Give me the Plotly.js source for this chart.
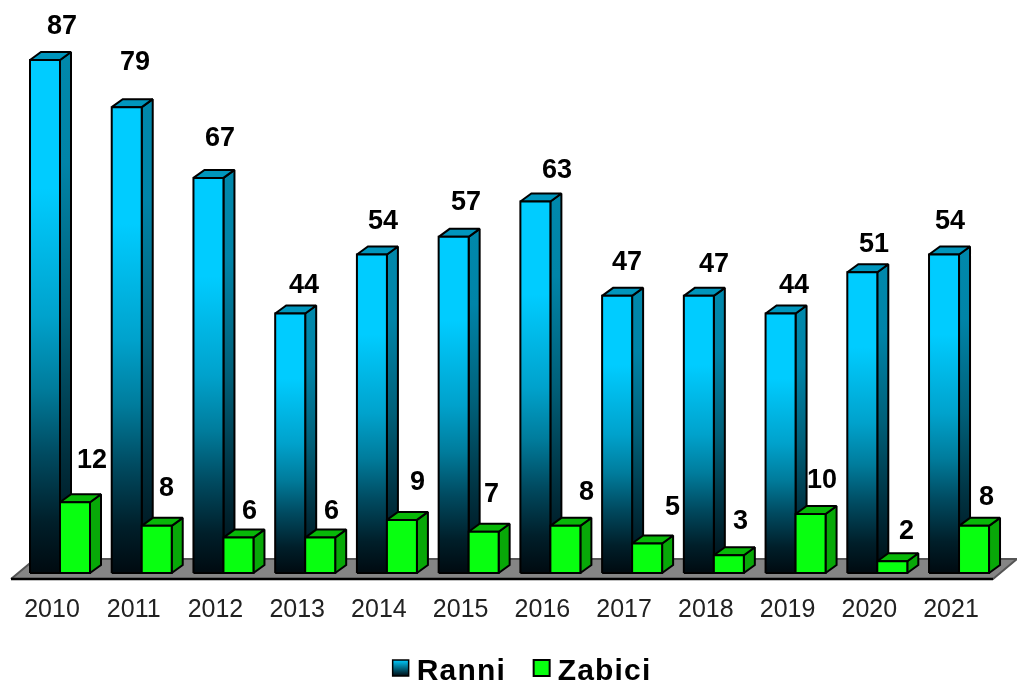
<!DOCTYPE html>
<html><head><meta charset="utf-8">
<script src="https://cdn.plot.ly/plotly-3.0.1.min.js"></script>
<style>html,body{margin:0;padding:0;background:#fff}#c{width:1017px;height:684px;filter:blur(0.4px)}
.legendtext{letter-spacing:1.2px}
.legend .legendpoints{translate:4px 0}</style>
</head><body><div id="c"></div>
<script>
const years = ['2010','2011','2012','2013','2014','2015','2016','2017','2018','2019','2020','2021'];
const ranni = [87,79,67,44,54,57,63,47,47,44,51,54];
const zabici = [12,8,6,6,9,7,8,5,3,10,2,8];
const seriesNames = ['Ranni','Zabici'];

// hand-placed value labels in the original: pixel offsets from each bar's top-left corner
const ranniLabelDx = [32,23,27,29,26,27,37,25,30,28,27,21];
const ranniLabelDy = [35,46,41,30,35,36,32,35,33,30,29,35];
const zabiciLabelDx = [32,25,26,26,31,23,36,40,27,26,29,27];
const zabiciLabelDy = [43,39,28,28,39,39,35,38,35,35,31,30];

const W = 1017, H = 684, marginB = 99;
const pxPerCat = 81.73, pxPerVal = 5.897, zeroPx = 573, cat0Px = 52;
const plotBottom = H - marginB;
const xRange = [-cat0Px / pxPerCat, (W - cat0Px) / pxPerCat];
const yRange = [-(plotBottom - zeroPx) / pxPerVal, zeroPx / pxPerVal];

const barW = 30 / pxPerCat, depthX = 11 / pxPerCat, depthY = 8 / pxPerVal;
const blueOff = -22 / pxPerCat, greenOff = blueOff + barW;

const FONT = '"Liberation Sans", Arial, sans-serif';
const traces = [];

function poly(xs, ys, fill, grad, lineColor) {
  const t = {type:'scatter', mode:'lines', x:[...xs, xs[0]], y:[...ys, ys[0]], fill:'toself',
    line:{color:lineColor || '#000', width:2}, showlegend:false, hoverinfo:'skip'};
  if (grad) t.fillgradient = grad; else t.fillcolor = fill;
  traces.push(t);
}

function vgrad(stops, v) {
  return {type:'vertical', start:0, stop:v, colorscale:stops};
}

// floor: grey slab with a thin grey rim and a black front edge
const floorFront = -6 / pxPerVal, floorBack = 14 / pxPerVal;
const floorL = xRange[0] + 11/pxPerCat, floorR = xRange[0] + 993/pxPerCat;
poly([floorL, floorR, xRange[0] + 1017/pxPerCat, xRange[0] + 35/pxPerCat],
     [floorFront, floorFront, floorBack, floorBack], '#858585', null, '#555');
traces.push({type:'scatter', mode:'lines', x:[floorL, floorR], y:[floorFront, floorFront],
  line:{color:'#000', width:2.5}, showlegend:false, hoverinfo:'skip'});

const frontBlue = [[0,'#000a10'],[0.1,'#001f2a'],[0.23,'#004a60'],[0.36,'#007c9c'],[0.5,'#00a2cc'],[0.75,'#00ccff'],[1,'#00ccff']];
const sideBlue = [[0,'#000c12'],[0.23,'#00303f'],[0.5,'#005f78'],[0.8,'#0084a8'],[1,'#0088ab']];

function bar(x0, v, frontOpt, sideOpt, topFill) {
  const x1 = x0 + barW;
  poly([x1, x1 + depthX, x1 + depthX, x1], [0, depthY, v + depthY, v], sideOpt.fill, sideOpt.grad);
  poly([x0, x1, x1 + depthX, x0 + depthX], [v, v, v + depthY, v + depthY], topFill);
  poly([x0, x1, x1, x0], [0, 0, v, v], frontOpt.fill, frontOpt.grad);
}

const annotations = [];
function label(x, v, dx, dy) {
  annotations.push({x, y:v, xref:'x', yref:'y', text:String(v), showarrow:false,
    xanchor:'center', yanchor:'middle', xshift:dx, yshift:dy,
    font:{family:FONT, size:27, color:'#000', weight:700}});
}

years.forEach((y, i) => {
  bar(i + blueOff, ranni[i], {grad:vgrad(frontBlue, ranni[i])}, {grad:vgrad(sideBlue, ranni[i])}, '#0096bd');
  bar(i + greenOff, zabici[i], {fill:'#08ff10'}, {fill:'#08a808'}, '#08b808');
  label(i + blueOff, ranni[i], ranniLabelDx[i], ranniLabelDy[i]);
  label(i + greenOff, zabici[i], zabiciLabelDx[i], zabiciLabelDy[i]);
});

// legend-only entries
traces.push({type:'scatter', mode:'markers', x:[null], y:[null], name:seriesNames[0], hoverinfo:'skip',
  marker:{symbol:'square', size:16, color:'#00ccff', gradient:{type:'vertical', color:'#000a10'}, line:{color:'#000', width:1.5}}});
traces.push({type:'scatter', mode:'markers', x:[null], y:[null], name:seriesNames[1], hoverinfo:'skip',
  marker:{symbol:'square', size:16, color:'#08ff10', line:{color:'#000', width:2}}});

const layout = {
  width:W, height:H, margin:{l:0, r:0, t:0, b:marginB, pad:0},
  paper_bgcolor:'#fff', plot_bgcolor:'rgba(0,0,0,0)', showlegend:true,
  annotations,
  xaxis:{range:xRange, tickmode:'array', tickvals:years.map((_, i) => i), ticktext:years,
    showgrid:false, zeroline:false, showline:false, ticks:'', ticklabelstandoff:6, automargin:false, fixedrange:true,
    tickfont:{family:FONT, size:25, color:'#222'}},
  yaxis:{range:yRange, visible:false, fixedrange:true},
  legend:{orientation:'h', xref:'container', yref:'container', x:0.509, xanchor:'center', y:0.0235, yanchor:'middle',
    entrywidth:96, entrywidthmode:'pixels', bgcolor:'rgba(0,0,0,0)',
    font:{family:FONT, size:30, color:'#000', weight:700}}
};
Plotly.newPlot('c', traces, layout, {displayModeBar:false, staticPlot:true});
</script></body></html>
